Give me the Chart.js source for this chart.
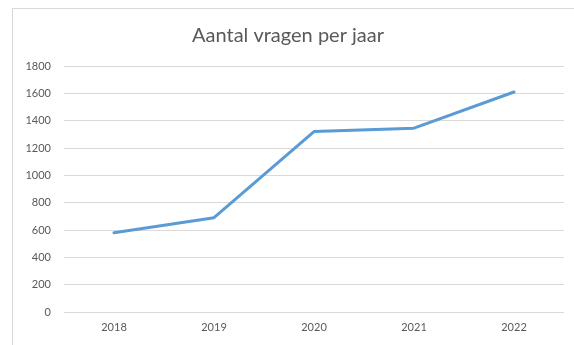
<!DOCTYPE html>
<html>
<head>
<meta charset="utf-8">
<script src="https://cdn.jsdelivr.net/npm/chart.js@4"></script>
<style>
    html, body { margin: 0; padding: 0; background: #fff; }
    #wrap { position: relative; width: 574px; height: 345px; }
    #frame {
        position: absolute; left: 12px; top: 8px; right: 0; bottom: 0;
        border-left: 1px solid #d9d9d9; border-top: 1px solid #d9d9d9;
        pointer-events: none;
    }
</style>
</head>
<body>
<div id="wrap">
    <canvas id="vragenChart" width="574" height="345"></canvas>
    <div id="frame"></div>
</div>
<script>
// Aantal vragen per jaar
let jaren = ['2018', '2019', '2020', '2021', '2022'];
let vragen = [580, 690, 1320, 1345, 1610];
let yTicks = [0, 200, 400, 600, 800, 1000, 1200, 1400, 1600, 1800];

document.addEventListener('DOMContentLoaded', function() {
    let ctx = document.getElementById('vragenChart').getContext('2d');
    let grijs = '#595959';

    new Chart(ctx, {
        type: 'line',
        data: {
            labels: jaren,
            datasets: [{
                label: 'Aantal vragen',
                data: vragen,
                borderColor: '#5b9bd5',
                borderWidth: 3,
                borderJoinStyle: 'round',
                borderCapStyle: 'round',
                pointRadius: 0,
                tension: 0,
                fill: false
            }]
        },
        options: {
            responsive: false,
            animation: false,
            layout: {
                padding: { top: 8, left: 12, right: 10, bottom: 0 }
            },
            plugins: {
                legend: { display: false },
                tooltip: { enabled: false },
                title: {
                    display: true,
                    text: 'Aantal vragen per jaar',
                    color: grijs,
                    font: { family: 'Lato', size: 20, weight: 'normal', lineHeight: 1.2 },
                    padding: { top: 16, bottom: 18 }
                }
            },
            scales: {
                x: {
                    offset: true,
                    grid: { display: false, drawTicks: false },
                    border: { display: false },
                    ticks: {
                        color: grijs,
                        font: { family: 'Lato', size: 11 },
                        padding: 9,
                        maxRotation: 0
                    },
                    afterFit: function(scale) { scale.height = 33; }
                },
                y: {
                    min: 0,
                    max: yTicks[yTicks.length - 1],
                    afterBuildTicks: function(scale) {
                        scale.ticks = yTicks.map(function(v) { return { value: v }; });
                    },
                    grid: { color: '#d9d9d9', lineWidth: 1, drawTicks: false },
                    border: { display: false },
                    ticks: {
                        color: grijs,
                        font: { family: 'Lato', size: 11 },
                        padding: 13,
                        callback: function(value) { return String(value); }
                    },
                    afterFit: function(scale) { scale.width = 52; }
                }
            }
        }
    });
});
</script>
</body>
</html>
